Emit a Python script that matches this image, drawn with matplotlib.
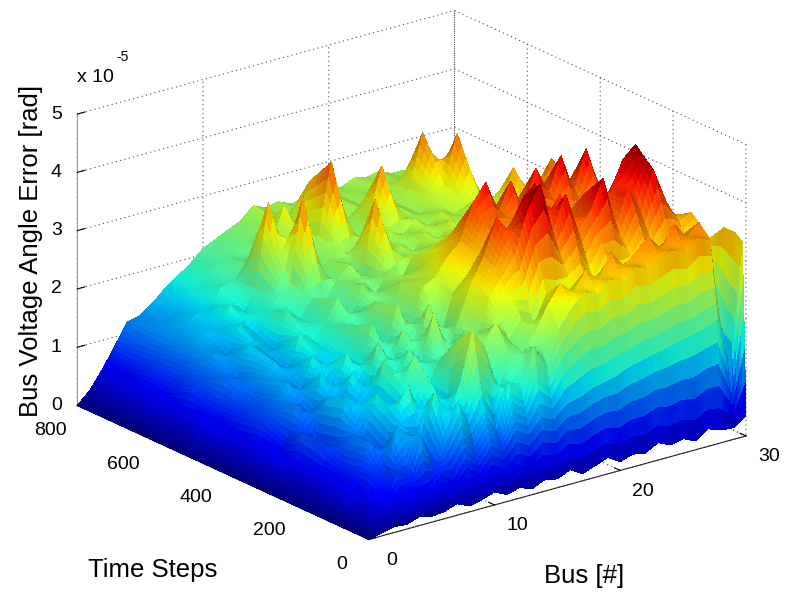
import numpy as np
import matplotlib.pyplot as plt
from matplotlib import colors
from mpl_toolkits.mplot3d import proj3d

plt.rcParams['font.family'] = ['Liberation Sans', 'DejaVu Sans']

bus = list(range(31))
time_steps = [0, 10, 30, 60, 100, 150, 200, 250, 300, 360, 430, 500, 560, 620, 680, 740, 800]

err_t0 = [0, .05, .1, .08, .15, .1, .12, .2, .1, .15, .22, .12, .18, .1, .2, .15,
          .25, .12, .2, .28, .15, .22, .18, .3, .2, .25, .15, .3, .22, .2, .35]
err_t10 = [0, .15, .35, .3, .55, .45, .75, .6, .9, .7, 1.0, .85, 1.15, 1.0, 1.25, 1.15,
           1.35, 1.4, 1.5, 1.55, 1.6, 1.7, 1.75, 1.8, 1.85, 1.9, 1.95, 2.0, 2.1, 1.2, 3.3]
err_t30 = [0, .35, .5, .9, .8, 1.4, .8, 1.4, 1.8, 1.2, 1.55, 1.15, 1.9, 1.7, 2.4, 2.0,
           2.6, 2.9, 3.1, 3.0, 3.2, 3.1, 3.3, 3.2, 3.3, 3.4, 3.3, 3.5, 3.4, 1.3, 3.4]
err_t60 = [0, .3, .8, .75, 1.5, 1.3, .95, 1.95, 1.4, 1.95, 2.8, 2.45, 1.65, 2.2, 2.2, 2.5,
           2.9, 3.2, 3.0, 3.3, 3.1, 3.5, 3.2, 3.4, 3.6, 3.3, 3.7, 3.4, 3.6, 1.9, 3.4]
err_t100 = [0, .48, .75, 1.2, .9, 1.55, 2.0, 1.4, 1.85, 1.45, 2.55, 1.95, 2.35, 2.65, 2.3, 2.6,
            2.4, 2.9, 2.7, 2.9, 3.0, 2.7, 3.1, 2.8, 3.0, 3.2, 2.9, 3.1, 3.3, 2.6, 3.1]
err_t150 = [0, .45, .7, 1.15, 1.1, 1.75, 1.2, 1.8, 2.25, 1.65, 2.05, 1.65, 2.45, 2.25, 2.9, 3.2,
            3.5, 4.2, 4.6, 3.7, 4.3, 3.6, 3.9, 4.4, 3.5, 4.1, 3.6, 4.3, 3.7, 3.3, 3.4]
err_t200 = [0, .35, .9, .85, 1.6, 1.45, 1.1, 2.1, 1.55, 2.15, 1.85, 2.65, 1.85, 2.45, 3.0, 3.4,
            4.0, 3.6, 4.2, 4.4, 3.7, 4.1, 3.5, 4.0, 3.7, 3.9, 4.4, 4.6, 3.8, 3.4, 3.2]
err_t250 = [0, .3, 1.0, .8, 1.5, 1.1, 1.8, 1.3, 2.2, 1.7, 2.3, 1.8, 2.6, 2.0, 2.7, 2.9,
            3.2, 3.5, 3.3, 3.6, 3.2, 3.4, 3.1, 3.5, 3.2, 3.4, 3.3, 3.5, 3.2, 3.0, 2.9]
err_t300 = [0, .45, .65, 1.25, 1.0, 1.7, 1.3, 1.9, 1.5, 2.3, 1.7, 2.5, 1.9, 2.7, 2.8, 3.1,
            3.3, 3.9, 4.2, 3.6, 4.1, 3.5, 4.2, 3.7, 4.3, 3.6, 4.3, 3.5, 3.4, 3.1, 2.9]
err_t360 = [0, .4, .85, 1.1, 1.4, 1.2, 1.75, 1.5, 1.6, 2.1, 1.8, 2.4, 2.0, 2.6, 2.6, 2.8,
            3.0, 3.2, 3.3, 3.1, 3.3, 3.1, 3.4, 3.2, 3.5, 3.2, 3.4, 3.3, 3.1, 2.8, 2.7]
err_t430 = [0, .35, .75, .95, 1.3, 1.5, 1.3, 1.85, 1.7, 1.9, 2.3, 1.9, 2.4, 2.2, 2.5, 2.3,
            2.7, 2.5, 2.8, 2.6, 2.9, 2.7, 2.8, 3.0, 2.7, 3.0, 2.8, 3.7, 2.8, 2.5, 2.5]
err_t500 = [0, .45, .7, 1.15, 1.1, 1.6, 1.45, 1.4, 2.0, 1.8, 2.1, 2.0, 2.3, 2.5, 2.2, 3.5,
            2.4, 2.6, 2.4, 2.7, 2.5, 2.8, 2.6, 2.7, 2.9, 2.6, 3.4, 2.7, 2.6, 2.4, 2.4]
err_t560 = [0, .3, .8, 1.0, 1.35, 1.25, 1.7, 1.55, 1.8, 2.0, 2.2, 3.6, 2.2, 2.4, 2.5, 2.4,
            2.6, 2.4, 2.6, 2.5, 2.7, 2.5, 2.7, 2.6, 2.7, 2.8, 2.6, 2.5, 2.4, 2.3, 2.3]
err_t620 = [0, .35, .6, .95, 1.3, 1.45, 1.5, 1.8, 1.65, 2.0, 3.4, 2.2, 2.1, 2.4, 2.6, 3.8,
            2.5, 2.4, 2.6, 3.5, 2.5, 2.6, 2.5, 2.7, 2.9, 3.7, 2.6, 2.5, 2.4, 2.2, 2.2]
err_t680 = [0, .3, .65, .9, 1.2, 1.4, 1.55, 1.6, 1.9, 1.95, 2.2, 2.1, 2.4, 3.0, 2.5, 3.3,
            2.5, 2.4, 2.5, 2.6, 2.5, 2.6, 2.5, 2.7, 3.6, 2.6, 2.5, 2.4, 2.4, 2.2, 2.1]
err_t740 = [0, .25, .55, .85, 1.2, 1.3, 1.4, 1.65, 1.75, 2.0, 2.1, 2.2, 2.3, 2.45, 2.55, 2.5,
            2.6, 2.45, 2.55, 2.6, 2.5, 2.55, 2.5, 2.6, 2.55, 2.5, 2.45, 2.4, 2.35, 2.2, 2.1]
err_t800 = [0, .2, .5, .85, 1.2, 1.25, 1.4, 1.6, 1.75, 1.9, 2.1, 2.2, 2.3, 2.4, 2.6, 2.5,
            2.55, 2.45, 2.5, 2.5, 2.55, 2.5, 2.6, 2.55, 2.6, 2.5, 2.5, 2.4, 2.35, 2.25, 2.1]

err_rows = [err_t0, err_t10, err_t30, err_t60, err_t100, err_t150, err_t200, err_t250,
            err_t300, err_t360, err_t430, err_t500, err_t560, err_t620, err_t680,
            err_t740, err_t800]

Z = np.array(err_rows)
X, Y = np.meshgrid(np.array(bus, float), np.array(time_steps, float))


def refine(a, n):
    # split every grid cell into n x n sub-facets so colours vary across a facet
    # (like MATLAB "shading interp"); the surface shape stays bilinear
    def along(arr, axis):
        m = arr.shape[axis]
        u = np.linspace(0, m - 1, (m - 1) * n + 1)
        i0 = np.clip(np.floor(u).astype(int), 0, m - 2)
        f = u - i0
        a0 = np.take(arr, i0, axis=axis)
        a1 = np.take(arr, i0 + 1, axis=axis)
        shape = [1, 1]
        shape[axis] = -1
        return a0 * (1 - f.reshape(shape)) + a1 * f.reshape(shape)
    return along(along(a, 0), 1)


nsub = 5
Xf, Yf, Zf = refine(X, nsub), refine(Y, nsub), refine(Z, nsub)

# colour of each sub-facet from its mean height, plus a soft light
zc = (Zf[:-1, :-1] + Zf[1:, :-1] + Zf[:-1, 1:] + Zf[1:, 1:]) / 4
norm = colors.Normalize(vmin=0, vmax=4.6)
rgb = plt.cm.jet(norm(zc))

bx, by, bz = Xf / 30.0, Yf / 800.0, Zf / 5.0 * 0.654
d1 = np.stack([bx[1:, 1:] - bx[:-1, :-1], by[1:, 1:] - by[:-1, :-1], bz[1:, 1:] - bz[:-1, :-1]], -1)
d2 = np.stack([bx[1:, :-1] - bx[:-1, 1:], by[1:, :-1] - by[:-1, 1:], bz[1:, :-1] - bz[:-1, 1:]], -1)
nrm = np.cross(d2, d1)
nrm /= np.linalg.norm(nrm, axis=-1, keepdims=True) + 1e-12
nrm *= np.sign(nrm[..., 2:3] + 1e-12)
light = np.array([-0.45, -0.6, 0.66])
light /= np.linalg.norm(light)
lit = np.clip(nrm @ light, 0, 1)
rgb[..., :3] *= (0.65 + 0.35 * lit)[..., None]

fc = np.ones(Zf.shape + (4,))
fc[:-1, :-1] = rgb

W, H = 793, 592
fig = plt.figure(figsize=(W / 100, H / 100), dpi=100)
ax = fig.add_axes([-0.0707, -0.09, 1.155, 1.218], projection='3d')
ax.set_proj_type('ortho')
ax.view_init(elev=20.8, azim=-127.7)
ax.set_box_aspect((1, 1, 0.654))

ax.plot_surface(Xf, Yf, Zf, facecolors=fc, rstride=1, cstride=1,
                linewidth=0, antialiased=False, shade=False)

ax.set_xlim(0, 30)
ax.set_ylim(0, 800)
ax.set_zlim(0, 5)
bus_ticks = [0, 10, 20, 30]
time_ticks = [0, 200, 400, 600, 800]
err_ticks = [0, 1, 2, 3, 4, 5]
ax.set_xticks(bus_ticks)
ax.set_yticks(time_ticks)
ax.set_zticks(err_ticks)
ax.set_xticklabels([])
ax.set_yticklabels([])
ax.set_zticklabels([])

for axis in (ax.xaxis, ax.yaxis, ax.zaxis):
    axis.pane.set_facecolor((1, 1, 1, 0))
    axis.pane.set_edgecolor((1, 1, 1, 0))
    axis.line.set_color('0.15')
    axis.line.set_linewidth(0.8)
    axis._axinfo['grid'].update(color='0.3', linewidth=0.8, linestyle=(0, (1, 3)))
    axis._axinfo['tick']['inward_factor'] = 0.0
    axis._axinfo['tick']['outward_factor'] = 0.25
ax.zaxis.line.set_color('0.6')

fig.canvas.draw()


def at(x, y, z, dx, dy):
    # figure fraction of a data point, shifted by (dx, dy) pixels (dy downwards)
    xs, ys, _ = proj3d.proj_transform(x, y, z, ax.M)
    px, py = ax.transData.transform((xs, ys))
    return (px + dx) / W, (py - dy) / H


# tick labels, MATLAB style
for b in bus_ticks:
    fig.text(*at(b, 0, 0, 23, 21), str(b), fontsize=14, ha='center', va='center')
for t in time_ticks:
    fig.text(*at(0, t, 0, -27, 25), str(t), fontsize=14, ha='center', va='center')
for z in err_ticks:
    fig.text(*at(0, 800, z, -21, 0), str(z), fontsize=14, ha='center', va='center')

fig.text(584 / W, 1 - 583 / H, 'Bus [#]', fontsize=18.5, ha='center', va='baseline')
fig.text(153 / W, 1 - 577 / H, 'Time Steps', fontsize=18.5, ha='center', va='baseline')
fig.text(31 / W, 1 - 251 / H, 'Bus Voltage Angle Error [rad]', fontsize=18.5,
         rotation=90, ha='center', va='center')
fig.text(77 / W, 1 - 82 / H, 'x 10', fontsize=14, va='baseline')
fig.text(116 / W, 1 - 61 / H, '-5', fontsize=10, va='baseline')

fig.savefig('out.png', dpi=100)
